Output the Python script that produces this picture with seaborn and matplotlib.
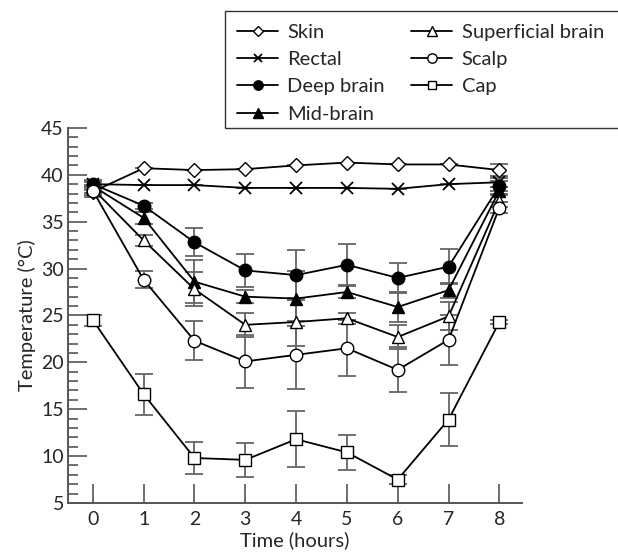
import numpy as np
import pandas as pd
import matplotlib
matplotlib.use("Agg")
import matplotlib.pyplot as plt
import seaborn as sns
from matplotlib.ticker import MultipleLocator
from matplotlib.patches import Rectangle

hours = [0, 1, 2, 3, 4, 5, 6, 7, 8]

skin = [38.2, 40.7, 40.5, 40.6, 41.0, 41.3, 41.1, 41.1, 40.5]
rectal = [39.0, 38.9, 38.9, 38.6, 38.6, 38.6, 38.5, 39.0, 39.2]
deep_brain = [39.0, 36.7, 32.8, 29.8, 29.3, 30.4, 29.0, 30.2, 38.8]
mid_brain = [38.8, 35.4, 28.6, 27.0, 26.8, 27.5, 25.9, 27.7, 38.3]
superficial_brain = [38.5, 33.0, 27.8, 24.0, 24.3, 24.7, 22.7, 24.9, 37.2]
scalp = [38.3, 28.8, 22.3, 20.1, 20.8, 21.5, 19.2, 22.4, 36.5]
cap = [24.5, 16.6, 9.8, 9.6, 11.8, 10.4, 7.5, 13.9, 24.3]

skin_err = [0.6, 0, 0, 0, 0, 0, 0, 0, 0.6]
rectal_err = [0.3, 0, 0, 0, 0, 0, 0, 0, 0.5]
deep_err = [0.4, 0.3, 1.5, 1.8, 2.7, 2.2, 1.6, 1.9, 0.5]
mid_err = [0.4, 0.6, 2.3, 0.7, 2.9, 0.6, 1.6, 0.8, 0.4]
superficial_err = [0.4, 0.6, 1.8, 1.3, 2.6, 0.6, 1.3, 1.5, 0.6]
scalp_err = [0.5, 0.9, 2.1, 2.8, 3.6, 3.0, 2.4, 2.7, 0.6]
cap_err = [0.6, 2.2, 1.7, 1.8, 3.0, 1.9, 0.5, 2.8, 0.2]

labels = ["Skin", "Rectal", "Deep brain", "Mid-brain",
          "Superficial brain", "Scalp", "Cap"]
series = [skin, rectal, deep_brain, mid_brain, superficial_brain, scalp, cap]
errors = [skin_err, rectal_err, deep_err, mid_err, superficial_err, scalp_err, cap_err]
markers = ["D", "x", "o", "^", "^", "o", "s"]
faces = ["white", "black", "black", "black", "white", "white", "white"]
sizes = [7, 8, 9, 9, 9, 9, 8]

sns.set_style("ticks")
plt.rcParams['font.family'] = ['Lato', 'DejaVu Sans']

fig = plt.figure(figsize=(6.18, 5.56), dpi=100)
ax = fig.add_axes([0.110, 0.0953, 0.735, 0.6747])

axis_grey = "#555555"
for lab, vals, err, m, fc, ms in zip(labels, series, errors, markers, faces, sizes):
    df = pd.DataFrame({"Time": hours, "Temp": vals})
    ax.errorbar(hours, vals, yerr=err, fmt="none", ecolor="#666666",
                elinewidth=1.3, capsize=6.5, capthick=1.3, zorder=1)
    sns.lineplot(data=df, x="Time", y="Temp", ax=ax, color="black",
                 linewidth=1.3, marker=m, markersize=ms, markerfacecolor=fc,
                 markeredgecolor="black", markeredgewidth=1.0 if m != "x" else 1.3,
                 label=lab, zorder=3)

ax.set_xlim(-0.49, 8.45)
ax.set_ylim(5, 45)
ax.set_xticks(hours)
ax.yaxis.set_major_locator(MultipleLocator(5))
ax.yaxis.set_minor_locator(MultipleLocator(1))
ax.tick_params(axis="x", direction="in", length=14, width=1.2, color=axis_grey,
               labelsize=14, pad=6)
ax.tick_params(axis="y", which="major", direction="in", length=14, width=1.2,
               color=axis_grey, labelsize=14, pad=3)
ax.tick_params(axis="y", which="minor", direction="in", length=7, width=1.2,
               color=axis_grey)
for s in ["top", "right"]:
    ax.spines[s].set_visible(False)
for s in ["left", "bottom"]:
    ax.spines[s].set_color(axis_grey)
    ax.spines[s].set_linewidth(1.4)

ax.set_xlabel("Time (hours)", fontsize=14.5, labelpad=2)
ax.set_ylabel("Temperature (°C)", fontsize=14.5, labelpad=4)

handles, labs = ax.get_legend_handles_labels()
if ax.legend_:
    ax.legend_.remove()
leg = fig.legend(handles, labs, loc="upper left",
                 bbox_to_anchor=(229 / 618, 1.0 - 16 / 556),
                 ncol=2, fontsize=14.5, frameon=False, markerscale=0.75,
                 handlelength=2.05, handletextpad=0.45,
                 columnspacing=1.3, labelspacing=0.5, borderpad=0.4,
                 borderaxespad=0.0)

# legend frame: left, top and bottom edges; right edge runs off the figure
frame = Rectangle((225 / 618, 1 - 128 / 556), 0.7, 117 / 556,
                  transform=fig.transFigure, fill=False, edgecolor="#333333",
                  linewidth=1.0, clip_on=False)
fig.add_artist(frame)

fig.savefig("out.png", dpi=100)
